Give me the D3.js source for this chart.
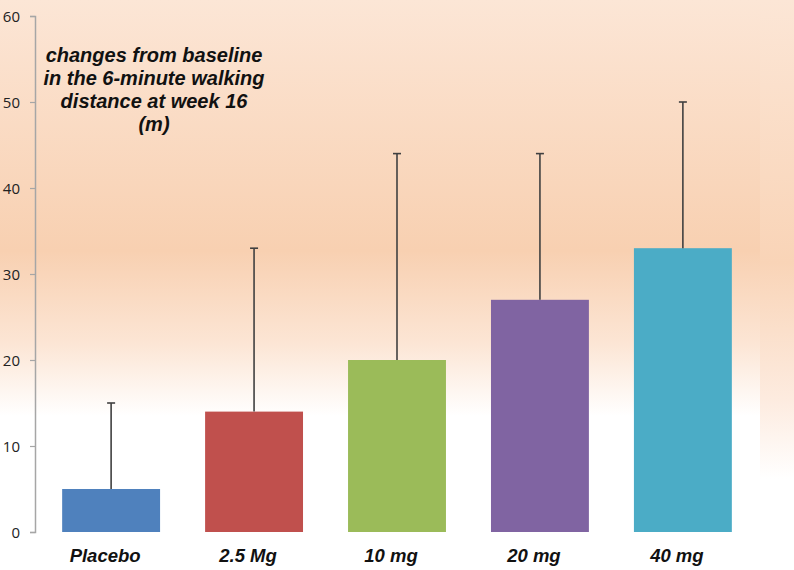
<!DOCTYPE html>
<html>
<head>
<meta charset="utf-8">
<script src="https://cdn.jsdelivr.net/npm/d3@7"></script>
<style>
  html, body { margin: 0; padding: 0; background: #fff; }
  svg { display: block; }
</style>
</head>
<body>
<svg id="chart" width="794" height="570"></svg>
<script>
// data
const groups = ['Placebo', '2.5 Mg', '10 mg', '20 mg', '40 mg'];
const means = [5, 14, 20, 27, 33];
const upper = [15, 33, 44, 44, 50];
const barColors = ['#4f81bd', '#c0504d', '#9bbb59', '#8064a2', '#4bacc6'];
const yTicks = [0, 10, 20, 30, 40, 50, 60];
const titleLines = [
  'changes from baseline',
  'in the 6-minute walking',
  'distance at week 16',
  '(m)',
];

const width = 794;
const height = 570;
const svg = d3.select('#chart');

// background glow
const defs = svg.append('defs');
const bg = defs.append('linearGradient')
  .attr('id', 'bg').attr('x1', 0).attr('y1', 0).attr('x2', 0).attr('y2', 1);
bg.append('stop').attr('offset', '0%').attr('stop-color', '#fce6d6');
bg.append('stop').attr('offset', '44%').attr('stop-color', '#f8d0b1');
bg.append('stop').attr('offset', '60%').attr('stop-color', '#fce5d4');
bg.append('stop').attr('offset', '73%').attr('stop-color', '#ffffff');
bg.append('stop').attr('offset', '100%').attr('stop-color', '#ffffff');

const bgR = defs.append('linearGradient')
  .attr('id', 'bgR').attr('x1', 0).attr('y1', 0).attr('x2', 0).attr('y2', 1);
bgR.append('stop').attr('offset', '0%').attr('stop-color', '#fce6d6');
bgR.append('stop').attr('offset', '46%').attr('stop-color', '#f9d4b7');
bgR.append('stop').attr('offset', '70%').attr('stop-color', '#fdebdf');
bgR.append('stop').attr('offset', '84%').attr('stop-color', '#ffffff');
bgR.append('stop').attr('offset', '100%').attr('stop-color', '#ffffff');

svg.append('rect').attr('x', 0).attr('y', 0).attr('width', 760).attr('height', height)
  .attr('fill', 'url(#bg)');
svg.append('rect').attr('x', 760).attr('y', 0).attr('width', width - 760).attr('height', height)
  .attr('fill', 'url(#bgR)');

// scales
const x = d3.scaleBand()
  .domain(groups)
  .range([35, 759])
  .paddingInner(0.315)
  .paddingOuter(0.19);

const y = d3.scaleLinear()
  .domain([0, 60])
  .range([532, 16]);

// y axis
const yAxis = d3.axisLeft(y)
  .tickValues(yTicks)
  .tickSize(5)
  .tickPadding(10);

const gy = svg.append('g')
  .attr('transform', 'translate(35,0)')
  .call(yAxis);
gy.select('.domain').attr('stroke', '#a6a6a6').attr('stroke-width', 1.5);
gy.selectAll('.tick line').attr('stroke', '#a6a6a6').attr('stroke-width', 1.2);
gy.selectAll('.tick text')
  .attr('fill', '#222')
  .attr('font-family', 'Open Sans, sans-serif')
  .attr('font-size', 15)
  .attr('dy', '0.34em');

// bars
svg.append('g')
  .selectAll('rect')
  .data(groups)
  .join('rect')
  .attr('x', (d) => x(d))
  .attr('y', (d, i) => y(means[i]))
  .attr('width', x.bandwidth())
  .attr('height', (d, i) => y(0) - y(means[i]))
  .attr('fill', (d, i) => barColors[i]);

// error bars (upper only)
const err = svg.append('g')
  .attr('stroke', '#404040')
  .attr('stroke-width', 1.6);

err.selectAll('line.stem')
  .data(groups)
  .join('line')
  .attr('class', 'stem')
  .attr('x1', (d) => x(d) + x.bandwidth() / 2)
  .attr('x2', (d) => x(d) + x.bandwidth() / 2)
  .attr('y1', (d, i) => y(means[i]))
  .attr('y2', (d, i) => y(upper[i]));

err.selectAll('line.cap')
  .data(groups)
  .join('line')
  .attr('class', 'cap')
  .attr('x1', (d) => x(d) + x.bandwidth() / 2 - 4)
  .attr('x2', (d) => x(d) + x.bandwidth() / 2 + 4)
  .attr('y1', (d, i) => y(upper[i]))
  .attr('y2', (d, i) => y(upper[i]));

// category labels
svg.append('g')
  .selectAll('text')
  .data(groups)
  .join('text')
  .attr('x', (d) => x(d) + x.bandwidth() / 2 - 6)
  .attr('y', 562)
  .attr('text-anchor', 'middle')
  .attr('font-family', 'Liberation Sans, Arial, sans-serif')
  .attr('font-weight', 'bold')
  .attr('font-style', 'italic')
  .attr('font-size', 18.5)
  .attr('fill', '#111')
  .text((d) => d);

// title inside the plot
svg.append('text')
  .attr('x', 154)
  .attr('y', 62)
  .attr('text-anchor', 'middle')
  .attr('font-family', 'Liberation Sans, Arial, sans-serif')
  .attr('font-weight', 'bold')
  .attr('font-style', 'italic')
  .attr('font-size', 20)
  .attr('fill', '#111')
  .selectAll('tspan')
  .data(titleLines)
  .join('tspan')
  .attr('x', 154)
  .attr('dy', (d, i) => (i ? 23 : 0))
  .text((d) => d);
</script>
</body>
</html>
